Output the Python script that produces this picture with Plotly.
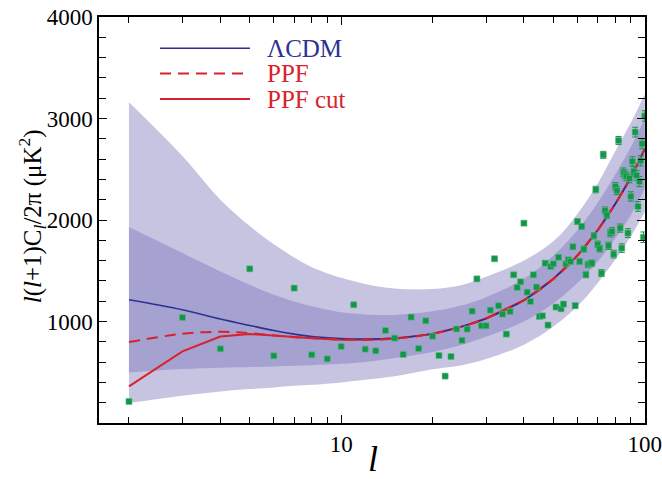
import plotly.graph_objects as go

# ---------------- data ----------------
L_BAND = [2, 3, 4, 5, 6, 7, 8, 10, 12, 15, 20, 25, 30, 40, 50, 60, 70, 80, 90, 100]
OUTER_UP = [3160, 2630, 2200, 1940, 1760, 1630, 1535, 1430, 1370, 1325, 1320, 1360, 1440, 1600, 1790, 2060, 2360, 2680, 2960, 3240]
OUTER_LO = [196, 268, 310, 334, 350, 366, 376, 400, 425, 460, 530, 570, 630, 770, 950, 1150, 1380, 1610, 1840, 2080]
INNER_UP = [1930, 1674, 1493, 1361, 1263, 1197, 1150, 1090, 1070, 1065, 1100, 1160, 1240, 1420, 1650, 1900, 2170, 2450, 2720, 3000]
INNER_LO = [498, 531, 544, 551, 557, 564, 570, 583, 600, 640, 700, 770, 850, 1000, 1180, 1380, 1590, 1820, 2050, 2310]

LCDM = [1214, 1115, 1024, 961, 911, 876, 852, 833, 827, 836, 880, 950, 1030, 1210, 1420, 1650, 1900, 2160, 2420, 2700]
PPF = [797, 879, 899, 886, 862, 846, 837, 822, 820, 830, 878, 950, 1030, 1210, 1420, 1650, 1900, 2160, 2420, 2700]
PPF_CUT = [360, 705, 852, 876, 862, 846, 835, 820, 820, 830, 878, 950, 1030, 1210, 1420, 1650, 1900, 2160, 2420, 2700]

L_PTS = list(range(2, 101))
CL_PTS = [212, 1040, 731, 1519, 662, 1329, 672, 632, 754, 1165,
          728, 711, 911, 836, 675, 1043, 734, 1007, 855, 665,
          462, 655, 926, 815, 925, 1102, 1420, 958, 958, 1112,
          1618, 1155, 1073, 876, 1099, 1460, 1335, 1391, 1969, 1289,
          1197, 1460, 1339, 1049, 1056, 1575, 965, 1542, 1568, 1142,
          1632, 1125, 1171, 1568, 1608, 1591, 1736, 1156, 1985, 1592,
          1936, 1713, 1460, 1559, 1568, 1575, 1844, 2300, 1760, 1717,
          1477, 2642, 2094, 2050, 1746, 1870, 1887, 1664, 2330, 2290,
          2783, 1920, 1723, 2470, 2450, 2430, 1871, 2410, 2232, 2577,
          2480, 2866, 2440, 2133, 2379, 2583, 2751, 1830, 3025]
ERR_PTS = [0, 0, 0, 0, 0, 0, 0, 0, 0, 0,
           0, 0, 0, 0, 0, 0, 0, 0, 8, 8,
           8, 8, 8, 8, 8, 8, 8, 8, 10, 10,
           10, 10, 10, 10, 12, 12, 12, 12, 14, 14,
           14, 14, 16, 16, 16, 16, 18, 18, 18, 20,
           20, 20, 22, 22, 22, 24, 24, 24, 26, 26,
           26, 28, 28, 28, 30, 30, 30, 32, 32, 32,
           34, 34, 34, 36, 36, 36, 38, 38, 38, 40,
           40, 40, 42, 42, 42, 44, 44, 44, 46, 46,
           46, 48, 48, 48, 50, 50, 50, 52, 52]

LEGEND_NAMES = ["ΛCDM", "PPF", "PPF cut"]
X_TICKS = [10, 100]
X_MINOR = [2, 3, 4, 5, 6, 7, 8, 9, 20, 30, 40, 50, 60, 70, 80, 90]
Y_TICKS = [1000, 2000, 3000, 4000]

# ---------------- style ----------------
BLUE = "#2e3192"
RED = "#d7232b"
GREEN = "#14964a"
LIGHT = "#c6c4e1"
DARK = "#a5a1d1"
FONT = "Liberation Serif"

fig = go.Figure()

# outer band
fig.add_trace(go.Scatter(x=L_BAND, y=OUTER_LO, mode="lines", line=dict(width=0, shape="spline"),
                         showlegend=False, hoverinfo="skip"))
fig.add_trace(go.Scatter(x=L_BAND, y=OUTER_UP, mode="lines", line=dict(width=0, shape="spline"),
                         fill="tonexty", fillcolor=LIGHT, showlegend=False, hoverinfo="skip"))
# inner band
fig.add_trace(go.Scatter(x=L_BAND, y=INNER_LO, mode="lines", line=dict(width=0, shape="spline"),
                         showlegend=False, hoverinfo="skip"))
fig.add_trace(go.Scatter(x=L_BAND, y=INNER_UP, mode="lines", line=dict(width=0, shape="spline"),
                         fill="tonexty", fillcolor=DARK, showlegend=False, hoverinfo="skip"))

# model curves: PPF cut below, LCDM above it, dashed PPF on top
fig.add_trace(go.Scatter(x=L_BAND, y=PPF_CUT, mode="lines", name=LEGEND_NAMES[2],
                         line=dict(color=RED, width=2, shape="linear"), showlegend=False))
fig.add_trace(go.Scatter(x=L_BAND, y=LCDM, mode="lines", name=LEGEND_NAMES[0],
                         line=dict(color=BLUE, width=1.6, shape="spline"), showlegend=False))
fig.add_trace(go.Scatter(x=L_BAND, y=PPF, mode="lines", name=LEGEND_NAMES[1],
                         line=dict(color=RED, width=2, dash="11px,7px", shape="spline"), showlegend=False))

# data points
fig.add_trace(go.Scatter(x=L_PTS, y=CL_PTS, mode="markers",
                         marker=dict(symbol="square", size=6, color=GREEN,
                                     line=dict(color="#5cb97f", width=0.6)),
                         error_y=dict(type="data", array=ERR_PTS, visible=True,
                                      color=GREEN, thickness=1, width=3),
                         showlegend=False))

# manual legend (paper coordinates)
legend_y = [0.923, 0.861, 0.798]
legend_col = [BLUE, RED, RED]
legend_dash = ["solid", "11px,7px", "solid"]
legend_w = [1.6, 2, 2]
for name, yy, col, dsh, w in zip(LEGEND_NAMES, legend_y, legend_col, legend_dash, legend_w):
    fig.add_shape(type="line", xref="paper", yref="paper", x0=0.1117, x1=0.2766, y0=yy, y1=yy,
                  line=dict(color=col, width=w, dash=dsh))
    fig.add_annotation(xref="paper", yref="paper", x=0.304, y=yy, text=name, showarrow=False,
                       xanchor="left", yanchor="middle", font=dict(family=FONT, size=25, color=col))

# axis titles
fig.add_annotation(xref="paper", yref="paper", x=0.502, y=-0.088, text="<i>l</i>", showarrow=False,
                   xanchor="center", yanchor="middle", font=dict(family=FONT, size=36, color="black"))
fig.add_annotation(xref="paper", yref="paper", x=-0.122, y=0.51,
                   text="<i>l</i>(<i>l</i>+1)C<sub><i>l</i></sub>/2π (μK<sup>2</sup>)",
                   showarrow=False, textangle=-90, xanchor="center", yanchor="middle",
                   font=dict(family=FONT, size=25, color="black"))

axis_common = dict(showline=True, linecolor="black", linewidth=1.5, mirror="ticks",
                   ticks="inside", ticklen=8, tickwidth=1.2, tickcolor="black",
                   showgrid=False, zeroline=False, ticklabeloverflow="allow", automargin=False,
                   tickfont=dict(family=FONT, size=23, color="black"))

fig.update_xaxes(type="log", range=[0.2023, 2.0008], tickvals=X_TICKS, ticktext=[str(v) for v in X_TICKS],
                 minor=dict(tickvals=X_MINOR, ticks="inside", ticklen=6, tickwidth=1, tickcolor="black",
                            showgrid=False),
                 **axis_common)
fig.update_yaxes(range=[0, 4000], tickvals=Y_TICKS, ticktext=[str(v) for v in Y_TICKS],
                 minor=dict(dtick=200, ticks="inside", ticklen=7, tickwidth=1, tickcolor="black",
                            showgrid=False),
                 **axis_common)

fig.update_layout(width=662, height=479, margin=dict(l=99, r=17, t=17, b=56, autoexpand=False),
                  paper_bgcolor="white", plot_bgcolor="white", showlegend=False)

fig.write_html("out.html", config={"displayModeBar": False},
               post_script="document.body.style.margin='0';document.body.style.overflow='hidden';")
